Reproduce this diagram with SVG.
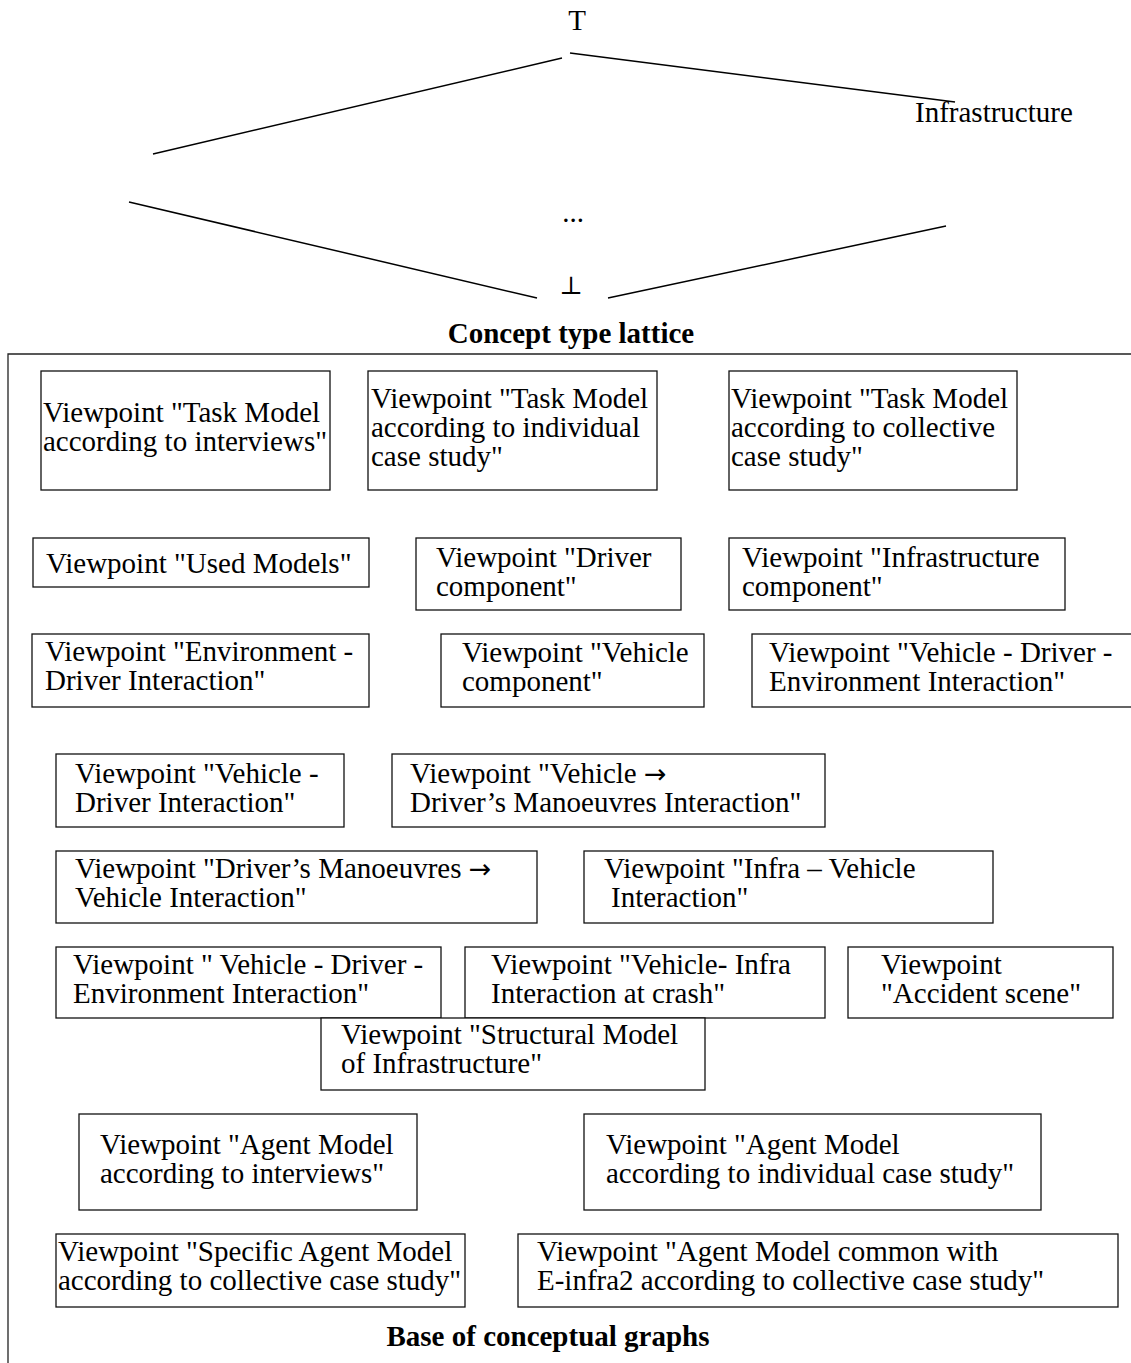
<svg xmlns="http://www.w3.org/2000/svg" width="1131" height="1363" viewBox="0 0 1131 1363">
<style>
text{font-family:"Liberation Serif","Times New Roman",serif;font-size:29px;fill:#000}
.b{font-weight:bold}
.ar{font-family:"DejaVu Sans","Liberation Serif",sans-serif;font-size:27px}
.box{fill:#fff;stroke:#111;stroke-width:1.3}
.edge{stroke:#000;stroke-width:1.5;fill:none}
.frame{stroke:#222;stroke-width:1.3;fill:none}
</style>
<rect width="1131" height="1363" fill="#fff"/>

<g id="lattice-labels">
<g id="top"><text x="577" y="30" text-anchor="middle">T</text></g>
<g id="infrastructure"><text x="915" y="122">Infrastructure</text></g>
<g id="dots"><text x="573" y="222" text-anchor="middle">...</text></g>
<g id="bottom"><text x="571" y="294" text-anchor="middle" style="font-family:'DejaVu Serif','Liberation Serif',serif;font-size:25px">⊥</text></g>
</g>

<g id="connectors">
<line class="edge" x1="562" y1="58" x2="153" y2="154"/>
<line class="edge" x1="570" y1="53" x2="955" y2="102"/>
<line class="edge" x1="129" y1="202" x2="537" y2="298"/>
<line class="edge" x1="608" y1="298" x2="946" y2="226"/>
</g>

<g id="title-lattice"><text class="b" x="571" y="343" text-anchor="middle">Concept type lattice</text></g>

<g id="frame"><path class="frame" d="M1131 354 H8 V1363"/></g>

<g id="tm-interviews"><rect class="box" x="41" y="371" width="289" height="119"/>
<text x="43" y="422">Viewpoint "Task Model</text><text x="43" y="451">according to interviews"</text></g>

<g id="tm-individual"><rect class="box" x="368" y="371" width="289" height="119"/>
<text x="371" y="408">Viewpoint "Task Model</text><text x="371" y="437">according to individual</text><text x="371" y="466">case study"</text></g>

<g id="tm-collective"><rect class="box" x="729" y="371" width="288" height="119"/>
<text x="731" y="408">Viewpoint "Task Model</text><text x="731" y="437">according to collective</text><text x="731" y="466">case study"</text></g>

<g id="used-models"><rect class="box" x="33" y="538" width="336" height="49"/>
<text x="46" y="573">Viewpoint "Used Models"</text></g>

<g id="driver-component"><rect class="box" x="416" y="538" width="265" height="72"/>
<text x="436" y="567">Viewpoint "Driver</text><text x="436" y="596">component"</text></g>

<g id="infra-component"><rect class="box" x="729" y="538" width="336" height="72"/>
<text x="742" y="567">Viewpoint "Infrastructure</text><text x="742" y="596">component"</text></g>

<g id="env-driver"><rect class="box" x="32" y="634" width="337" height="73"/>
<text x="45" y="661">Viewpoint "Environment -</text><text x="45" y="690">Driver Interaction"</text></g>

<g id="vehicle-component"><rect class="box" x="441" y="634" width="263" height="73"/>
<text x="462" y="662">Viewpoint "Vehicle</text><text x="462" y="691">component"</text></g>

<g id="vde-interaction"><rect class="box" x="752" y="634" width="390" height="73"/>
<text x="769" y="662">Viewpoint "Vehicle - Driver -</text><text x="769" y="691">Environment Interaction"</text></g>

<g id="vd-interaction"><rect class="box" x="56" y="754" width="288" height="73"/>
<text x="75" y="783">Viewpoint "Vehicle -</text><text x="75" y="812">Driver Interaction"</text></g>

<g id="v-dm-interaction"><rect class="box" x="392" y="754" width="433" height="73"/>
<text x="410" y="783">Viewpoint "Vehicle <tspan class="ar">→</tspan></text><text x="410" y="812">Driver’s Manoeuvres Interaction"</text></g>

<g id="dm-v-interaction"><rect class="box" x="56" y="851" width="481" height="72"/>
<text x="75" y="878">Viewpoint "Driver’s Manoeuvres <tspan class="ar">→</tspan></text><text x="75" y="907">Vehicle Interaction"</text></g>

<g id="infra-vehicle"><rect class="box" x="584" y="851" width="409" height="72"/>
<text x="604" y="878">Viewpoint "Infra – Vehicle</text><text x="611" y="907">Interaction"</text></g>

<g id="vde-interaction-2"><rect class="box" x="56" y="947" width="385" height="71"/>
<text x="73" y="974">Viewpoint " Vehicle - Driver -</text><text x="73" y="1003">Environment Interaction"</text></g>

<g id="vehicle-infra-crash"><rect class="box" x="465" y="947" width="360" height="71"/>
<text x="491" y="974">Viewpoint "Vehicle- Infra</text><text x="491" y="1003">Interaction at crash"</text></g>

<g id="accident-scene"><rect class="box" x="848" y="947" width="265" height="71"/>
<text x="881" y="974">Viewpoint</text><text x="881" y="1003">"Accident scene"</text></g>

<g id="structural-infra"><rect class="box" x="321" y="1018" width="384" height="72"/>
<text x="341" y="1044">Viewpoint "Structural Model</text><text x="341" y="1073">of Infrastructure"</text></g>

<g id="am-interviews"><rect class="box" x="79" y="1114" width="338" height="96"/>
<text x="100" y="1154">Viewpoint "Agent Model</text><text x="100" y="1183">according to interviews"</text></g>

<g id="am-individual"><rect class="box" x="584" y="1114" width="457" height="96"/>
<text x="606" y="1154">Viewpoint "Agent Model</text><text x="606" y="1183">according to individual case study"</text></g>

<g id="am-specific-collective"><rect class="box" x="56" y="1234" width="409" height="73"/>
<text x="58" y="1261">Viewpoint "Specific Agent Model</text><text x="58" y="1290">according to collective case study"</text></g>

<g id="am-common-einfra2"><rect class="box" x="518" y="1234" width="600" height="73"/>
<text x="537" y="1261">Viewpoint "Agent Model common with</text><text x="537" y="1290">E-infra2 according to collective case study"</text></g>

<g id="title-base"><text class="b" x="548" y="1346" text-anchor="middle">Base of conceptual graphs</text></g>
</svg>
